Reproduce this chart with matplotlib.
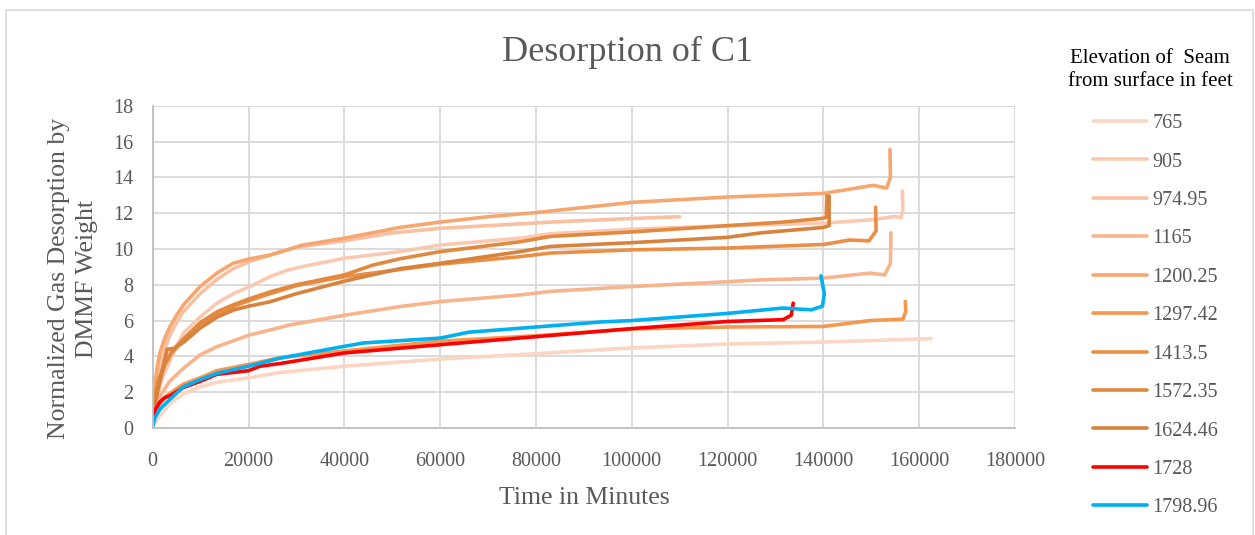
import matplotlib
matplotlib.use("Agg")
import matplotlib.pyplot as plt
from matplotlib.patches import Rectangle

# elevations (legend labels)
labels = ["765", "905", "974.95", "1165", "1200.25", "1297.42",
          "1413.5", "1572.35", "1624.46", "1728", "1798.96"]
colors = ["#fcd5c3", "#fbc9b1", "#f9c0a2", "#f8b48c", "#f6a66f", "#f5984f",
          "#ec8f46", "#e3893f", "#d8833d", "#ff0000", "#00b0f0"]

# time in minutes / normalized desorption
t_765 = [0, 1500, 4000, 6400, 9900, 13400, 20000, 26600, 40000, 60000, 80000,
         93400, 100000, 120000, 140000, 162500]
g_765 = [0.1, 0.7, 1.45, 1.9, 2.3, 2.55, 2.8, 3.1, 3.45, 3.85, 4.15,
         4.37, 4.47, 4.69, 4.8, 4.99]

t_905 = [0, 1000, 2000, 4000, 6400, 9900, 13400, 16800, 20300, 24500, 28000,
         31000, 40000, 51600, 60000, 76700, 83000, 100000, 120000, 140000,
         150000, 155000, 156200, 156600, 156500]
g_905 = [0.2, 1.8, 2.8, 4.0, 5.3, 6.2, 6.97, 7.5, 7.9, 8.45, 8.8,
         9.0, 9.48, 9.85, 10.22, 10.6, 10.85, 11.1, 11.3, 11.44,
         11.63, 11.81, 11.75, 12.2, 13.24]

t_974 = [0, 500, 1000, 2000, 3600, 5000, 6400, 9900, 13400, 16800, 20300,
         24500, 30000, 40000, 49600, 60000, 76700, 83000, 100000, 110000]
g_974 = [0.3, 2.1, 3.0, 4.0, 5.2, 5.9, 6.5, 7.5, 8.3, 8.9, 9.3,
         9.66, 10.1, 10.45, 10.88, 11.15, 11.4, 11.5, 11.7, 11.8]

t_1165 = [0, 1500, 3500, 6400, 9900, 13400, 20300, 24500, 28500, 40100, 51600,
          60000, 76700, 83000, 100000, 120000, 126800, 140000, 149700, 152800,
          154000, 154100]
g_1165 = [0.1, 1.75, 2.6, 3.33, 4.08, 4.54, 5.2, 5.47, 5.75, 6.3, 6.78,
          7.06, 7.43, 7.63, 7.9, 8.17, 8.27, 8.37, 8.65, 8.55,
          9.2, 10.9]

t_1200 = [0, 500, 1000, 1500, 2500, 3600, 5000, 6400, 9900, 13400, 16800,
          20300, 24500, 28000, 31000, 40000, 51600, 60000, 70000, 80000,
          100000, 120000, 140000, 150400, 153200, 154000, 153900]
g_1200 = [0.5, 2.5, 3.5, 4.2, 5.0, 5.66, 6.3, 6.87, 7.9, 8.65, 9.2,
          9.45, 9.66, 9.94, 10.2, 10.6, 11.2, 11.5, 11.8, 12.03,
          12.6, 12.9, 13.1, 13.55, 13.4, 14.0, 15.55]

t_1297 = [0, 1000, 2900, 6400, 9900, 13400, 20000, 26600, 40000, 60000, 80000,
          100000, 120000, 140000, 149700, 156600, 157200, 157100]
g_1297 = [0.3, 1.2, 1.8, 2.45, 2.8, 3.2, 3.55, 3.93, 4.3, 4.85, 5.15,
          5.53, 5.64, 5.67, 6.0, 6.08, 6.5, 7.07]

t_1413 = [0, 1000, 2500, 4000, 6500, 10000, 13500, 17000, 20000, 24500, 30000,
          40000, 51600, 60000, 76700, 83000, 100000, 120000, 130000, 140000,
          145500, 149500, 151000, 150900]
g_1413 = [0.8, 2.2, 3.5, 4.2, 4.9, 5.75, 6.35, 6.8, 7.1, 7.5, 7.95,
          8.45, 8.85, 9.15, 9.57, 9.77, 9.95, 10.05, 10.15, 10.25,
          10.5, 10.45, 11.0, 12.33]

t_1572 = [0, 1000, 2500, 4000, 6500, 10000, 13500, 17000, 20000, 24500, 30000,
          40000, 46000, 51600, 60000, 76700, 83000, 100000, 120000, 131600,
          139500, 140600, 140700]
g_1572 = [1.0, 2.5, 3.6, 4.3, 5.0, 5.9, 6.5, 6.9, 7.2, 7.6, 8.0,
          8.55, 9.1, 9.45, 9.85, 10.4, 10.7, 10.95, 11.3, 11.5,
          11.7, 11.75, 12.97]

t_1624 = [0, 1000, 2000, 3000, 4500, 6500, 10000, 13500, 17000, 20000, 24500,
          30000, 40000, 51600, 60000, 76700, 83000, 100000, 120000, 127000,
          140000, 141200, 141200]
g_1624 = [0.5, 2.0, 3.2, 4.4, 4.45, 4.8, 5.6, 6.2, 6.6, 6.8, 7.05,
          7.5, 8.2, 8.9, 9.2, 9.85, 10.14, 10.35, 10.65, 10.9,
          11.2, 11.3, 12.96]

t_1728 = [0, 500, 1500, 2500, 3600, 6400, 9900, 13400, 16800, 20000, 22400,
          26600, 40000, 60000, 80000, 100000, 120000, 131600, 133300, 133700]
g_1728 = [0.5, 1.0, 1.45, 1.7, 1.8, 2.26, 2.6, 3.0, 3.1, 3.2, 3.45,
          3.6, 4.19, 4.65, 5.1, 5.55, 5.95, 6.05, 6.3, 6.97]

t_1799 = [0, 500, 1500, 3600, 6400, 9900, 13400, 20000, 26600, 40000, 44000,
          60000, 66000, 80000, 93400, 100000, 110000, 120000, 131600, 137500,
          139800, 140200, 139500]
g_1799 = [0.1, 0.6, 1.05, 1.6, 2.3, 2.7, 3.05, 3.45, 3.9, 4.56, 4.75,
          5.02, 5.35, 5.64, 5.92, 6.0, 6.2, 6.4, 6.7, 6.6,
          6.8, 7.5, 8.5]

series = [(t_765, g_765), (t_905, g_905), (t_974, g_974), (t_1165, g_1165),
          (t_1200, g_1200), (t_1297, g_1297), (t_1413, g_1413),
          (t_1572, g_1572), (t_1624, g_1624), (t_1728, g_1728),
          (t_1799, g_1799)]

grey = "#595959"
plt.rcParams["font.family"] = ["Liberation Serif", "DejaVu Serif"]

fig = plt.figure(figsize=(12.55, 5.35), dpi=100)
W, H = 1255.0, 535.0
# chart border
fig.patches.append(Rectangle((6 / W, -0.1), 1247 / W, 1 - 10 / H + 0.1,
                             transform=fig.transFigure, fill=False,
                             edgecolor="#d9d9d9", linewidth=1.2))

ax = fig.add_axes([152.7 / W, (H - 428) / H, (1015 - 152.7) / W, (428 - 105.7) / H])
for (t, g), lab, c in zip(series, labels, colors):
    ax.plot(t, g, color=c, lw=2.6, label=lab, solid_capstyle="round",
            solid_joinstyle="round")

ax.set_xlim(0, 180000)
ax.set_ylim(0, 18)
ax.set_xticks(range(0, 180001, 20000))
ax.set_yticks(range(0, 19, 2))
ax.grid(True, color="#d9d9d9", lw=1.3)
ax.set_axisbelow(True)
for s in ["top", "right"]:
    ax.spines[s].set_visible(False)
for s in ["left", "bottom"]:
    ax.spines[s].set_color("#bfbfbf")
    ax.spines[s].set_linewidth(1.3)
ax.tick_params(length=0, labelsize=14.5, colors=grey)
ax.tick_params(axis="x", pad=17)
ax.tick_params(axis="y", pad=14)

ax.set_xlabel("Time in Minutes", fontsize=18.5, color=grey, labelpad=12)
ax.set_ylabel("Normalized Gas Desorption by\nDMMF Weight", fontsize=18.5,
              color=grey, linespacing=1.3)
ax.yaxis.set_label_coords(-0.064, 0.463)
fig.text(628 / W, 1 - 52 / H, "Desorption of C1", fontsize=26, color=grey,
         ha="center", va="center")

fig.text(1150 / W, 1 - 70 / H, "Elevation of  Seam\nfrom surface in feet",
         fontsize=15, color="black", ha="center", va="center", linespacing=1.3)
leg = fig.legend(loc="upper left", bbox_to_anchor=(1093 / W, 1 - 114 / H),
                 frameon=False, fontsize=14.5, handlelength=2.7,
                 handletextpad=0.25, borderpad=0, borderaxespad=0,
                 labelspacing=0.96)
for txt in leg.get_texts():
    txt.set_color(grey)

fig.savefig("out.png", dpi=100)
